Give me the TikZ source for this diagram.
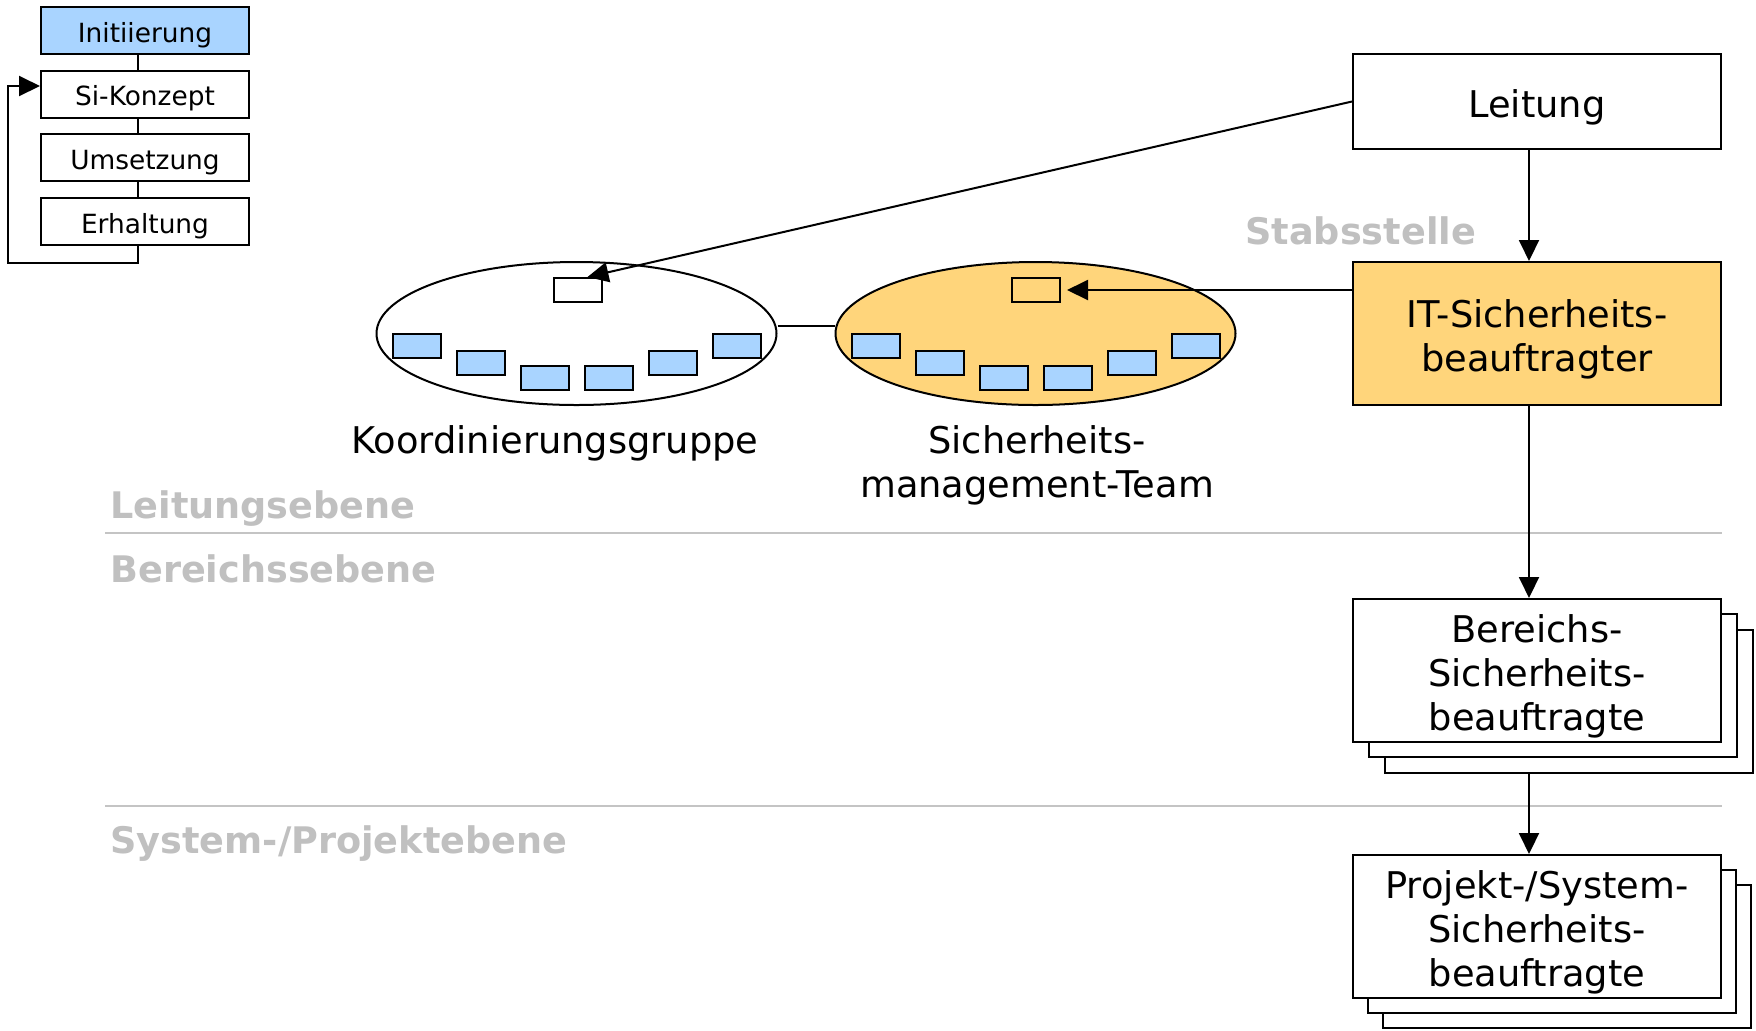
\documentclass[tikz,border=0pt]{standalone}
\usepackage{fontspec}
\setmainfont{DejaVu Sans}
\usetikzlibrary{arrows.meta,shapes.geometric,calc}

\definecolor{stepblue}{HTML}{A9D4FF}
\definecolor{staffgold}{HTML}{FFD57B}
\definecolor{levelgrey}{HTML}{C0C0C0}
\definecolor{ruleline}{HTML}{C4C4C4}

% font sizes
\newcommand\roletext{\fontsize{18.4pt}{22pt}\selectfont}
\newcommand\stagetext{\fontsize{13.2pt}{16pt}\selectfont}
\newcommand\leveltext{\fontsize{18.3pt}{22pt}\selectfont\bfseries}

% struts that fix where the text sits inside its box
\newcommand\tstrut{\rule{0pt}{20.5pt}}
\newcommand\bstrut{\rule[-5pt]{0pt}{5pt}}
\newcommand\stup{\rule{0pt}{15pt}}
\newcommand\stdn{\rule[-3.5pt]{0pt}{3.5pt}}

\tikzset{
  conn/.style={draw=black, line width=1pt},
  arr/.style={conn, -{Triangle[length=10.5pt,width=10pt]}},
  stagebox/.style={draw, line width=1pt, fill=white, minimum width=104pt,
    minimum height=23.5pt, inner sep=0pt, font=\stagetext},
  rolebox/.style={draw, line width=1pt, fill=white, minimum width=184pt,
    minimum height=71.5pt, inner sep=0pt, align=center, font=\roletext},
  member/.style={draw, line width=1pt, fill=stepblue, minimum width=24pt,
    minimum height=12pt, inner sep=0pt},
  chair/.style={draw, line width=1pt, minimum width=24pt,
    minimum height=12pt, inner sep=0pt},
  group/.style={ellipse, draw, line width=1pt, minimum width=200pt,
    minimum height=71.5pt, inner sep=0pt},
  levellabel/.style={anchor=base west, inner sep=0pt, text=levelgrey, font=\leveltext},
  caption/.style={align=center, inner sep=0pt, font=\roletext},
  sepline/.style={draw=ruleline, line width=1pt},
}

\begin{document}
\begin{tikzpicture}[x=0.5pt, y=-0.5pt]
\useasboundingbox (0,0) rectangle (1756,1030);
\fill[white] (0,0) rectangle (1756,1030);

% process stages
\node[stagebox, fill=stepblue] (init) at (145,30.5)  {\stup Initiierung\stdn};
\node[stagebox] (konz) at (145,94)    {\stup Si-Konzept\stdn};
\node[stagebox] (ums)  at (145,157.5) {\stup Umsetzung\stdn};
\node[stagebox] (erh)  at (145,221.5) {\stup Erhaltung\stdn};

\draw[conn] ($(init.south)+(-7,0)$) -- ($(konz.north)+(-7,0)$);
\draw[conn] ($(konz.south)+(-7,0)$) -- ($(ums.north)+(-7,0)$);
\draw[conn] ($(ums.south)+(-7,0)$)  -- ($(erh.north)+(-7,0)$);
\draw[arr] ($(erh.south)+(-7,0)$) -- ++(0,17) -| ($(konz.west)+(-32,-8)$)
  -- ($(konz.west)+(0,-8)$);

% level separators
\node[rolebox, fill=staffgold] (it) at (1537,333.5) {\tstrut IT-Sicherheits-\\beauftragter\bstrut};
\coordinate (sepA) at (105,533);
\coordinate (sepB) at (105,806);
\draw[sepline] (sepA) -- (sepA -| it.east);
\draw[sepline] (sepB) -- (sepB -| it.east);

\node[levellabel] (lvlA) at (110,518) {Leitungsebene};
\node[levellabel] (lvlB) at (110,582) {Bereichssebene};
\node[levellabel] (lvlC) at (110,853) {System-/Projektebene};
\node[levellabel] (staff) at (1245,244) {Stabsstelle};

% management
\node[rolebox, minimum height=47.5pt] (leit) at (1537,101.5) {\tstrut Leitung\bstrut};

% area officers (stacked)
\node[rolebox] (bb2) at (1569,701.5) {};
\node[rolebox] (bb1) at (1553,685.5) {};
\node[rolebox] (bf)  at (1537,670.5) {\tstrut Bereichs-\\Sicherheits-\\beauftragte\bstrut};

% project / system officers (stacked)
\node[rolebox] (pb2) at (1567,956.5) {};
\node[rolebox] (pb1) at (1552,941.5) {};
\node[rolebox] (pf)  at (1537,926.5) {\tstrut Projekt-/System-\\Sicherheits-\\beauftragte\bstrut};

% groups
\node[group] (kg) at (576.5,333.5) {};
\node[group, fill=staffgold] (smt) at (1035.5,333.5) {};
\node[chair, fill=white] (kgc) at (577.5,290) {};
\node[chair, fill=staffgold] (smtc) at (1036,290) {};
\foreach \i/\yy in {0/346,1/362.5,2/378,3/378,4/362.5,5/346} {
  \node[member] (kgm\i) at (417+64*\i,\yy) {};
  \node[member] (smtm\i) at (876+64*\i,\yy) {};
}
\node[caption] (kgcap) at (555,437.5) {\tstrut Koordinierungsgruppe\bstrut};
\node[caption] (smtcap) at (1037,459.5) {\tstrut Sicherheits-\\management-Team\bstrut};

% connectors
\draw[conn] ($(kg.east)+(0,-8)$) -- ($(smt.west)+(0,-8)$);
\draw[arr] (leit.west) -- ($(kgc.north)+(10,0)$);
\draw[arr, shorten >=3pt] (it.west |- smtc.east) -- (smtc.east);
\draw[arr] ($(leit.south)+(-8,0)$) -- ($(it.north)+(-8,0)$);
\draw[arr] ($(it.south)+(-8,0)$) -- ($(bf.north)+(-8,0)$);
\coordinate (colx) at ($(bf.south)+(-8,0)$);
\draw[arr] (colx |- bb2.south) -- ($(pf.north)+(-8,0)$);
\end{tikzpicture}
\end{document}
